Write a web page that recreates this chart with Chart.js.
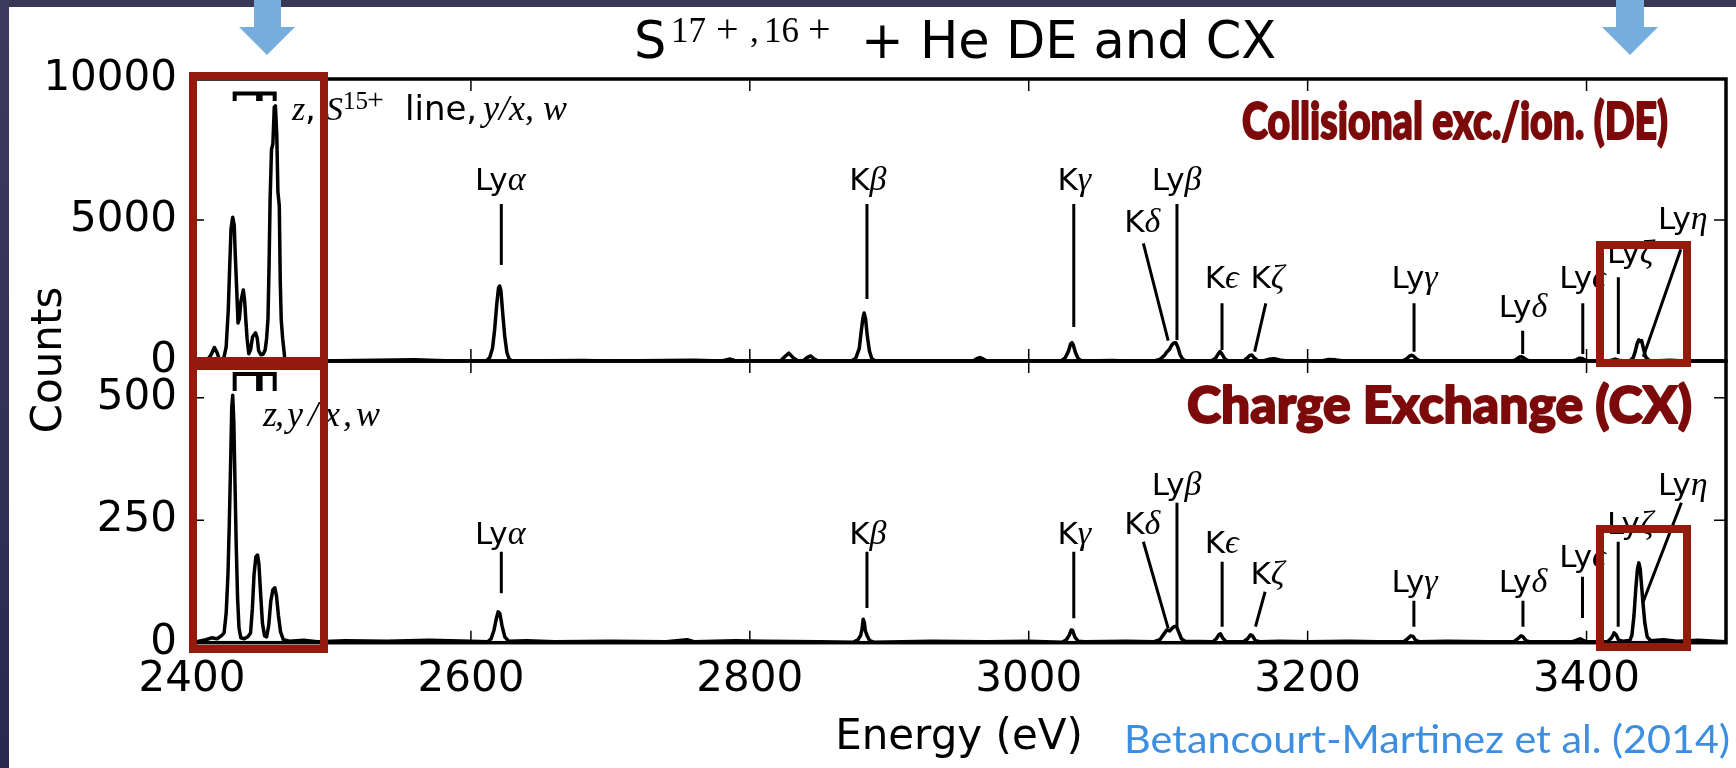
<!DOCTYPE html>
<html>
<head>
<meta charset="utf-8">
<script src="https://cdn.jsdelivr.net/npm/chart.js@4.4.0/dist/chart.umd.min.js"></script>
<style>
  html, body { margin: 0; padding: 0; background: #fff; }
  #wrap { position: relative; width: 1736px; height: 768px; overflow: hidden; background: #fff; }
  #wrap canvas, #wrap svg { position: absolute; left: 0; top: 0; }
</style>
</head>
<body>
<div id="wrap">
  <canvas id="chartCX" width="1736" height="768"></canvas>
  <canvas id="chartDE" width="1736" height="768"></canvas>
  <svg width="1736" height="768" viewBox="0 0 1736 768">
    <defs>
      <linearGradient id="side" x1="0" y1="0" x2="0" y2="1">
        <stop offset="0" stop-color="#3d3a5e"/>
        <stop offset="1" stop-color="#29294f"/>
      </linearGradient>
    </defs>
    <rect x="0" y="0" width="1736" height="7" fill="#3a3658"/>
    <rect x="0" y="0" width="9" height="768" fill="url(#side)"/>

    <!-- arrows -->
    <g fill="#75addc">
      <rect x="254" y="0" width="27" height="28"/>
      <polygon points="239,27 295,27 267,55"/>
      <rect x="1616" y="0" width="28" height="28"/>
      <polygon points="1602,27 1658,27 1630,55"/>
    </g>

    <!-- title -->
    <text font-family="DejaVu Sans" font-size="51" fill="#000">
      <tspan x="634" y="58">S</tspan>
      <tspan font-family="Liberation Serif" font-size="35" y="42"><tspan x="671">17</tspan><tspan x="716" font-size="40">+</tspan><tspan x="750">,</tspan><tspan x="764">16</tspan><tspan x="808" font-size="40">+</tspan></tspan>
      <tspan x="861" y="58">+ He DE and CX</tspan>
    </text>

    <text transform="translate(61,360) rotate(-90)" text-anchor="middle" font-family="DejaVu Sans" font-size="42" fill="#000">Counts</text>
    <text x="959" y="749" text-anchor="middle" font-family="DejaVu Sans" font-size="42" fill="#000">Energy (eV)</text>
    <text x="1124" y="753" font-family="Lato" font-size="38" fill="#3c8ee0" textLength="606" lengthAdjust="spacingAndGlyphs">Betancourt-Martinez et al. (2014)</text>

    <g font-family="Lato" font-weight="900" fill="#7d0a0a" stroke="#7d0a0a" stroke-width="1.8" stroke-linejoin="round">
      <text transform="translate(1242,139) scale(1,1.1)" x="0" y="0" font-size="46" textLength="426" lengthAdjust="spacingAndGlyphs">Collisional exc./ion. (DE)</text>
      <text transform="translate(1187,423) scale(1,1.06)" x="0" y="0" font-size="49" textLength="505" lengthAdjust="spacingAndGlyphs">Charge Exchange (CX)</text>
    </g>

    <!-- highlight boxes -->
    <g fill="none" stroke="#931a0c" stroke-width="8">
      <rect x="193" y="76" width="131" height="285"/>
      <rect x="193" y="366" width="131" height="283"/>
      <rect x="1600" y="245" width="87" height="118"/>
      <rect x="1600" y="529" width="87" height="118"/>
    </g>
  </svg>
</div>
<script>
// axis ticks
const xTicks = [2400, 2600, 2800, 3000, 3200, 3400];
const deYTicks = [0, 5000, 10000];
const cxYTicks = [0, 250, 500];

// direct excitation spectrum (eV, counts)
const deEnergy = [
  2400, 2407, 2412, 2414, 2416, 2418, 2419.5, 2422, 2423, 2424.5,
  2426, 2427, 2428, 2429.2, 2430.3, 2431, 2432, 2433, 2434, 2435,
  2436.8, 2437.8, 2438.6, 2439.5, 2440.7, 2442, 2443.4, 2445.6, 2446.8, 2447.8,
  2449.5, 2451, 2452.5, 2453.5, 2454.5, 2455.3, 2456, 2457, 2458, 2459,
  2459.8, 2460.8, 2461.6, 2462.6, 2463.3, 2464, 2465, 2466.5, 2469, 2480,
  2490, 2560, 2575, 2590,
  2611, 2613.5, 2615.5, 2617, 2618.5, 2619.8, 2620.6, 2621.5, 2622.8, 2624.2, 2625.8, 2627.5, 2630,
  2680, 2700, 2760, 2780, 2786, 2790, 2822, 2825, 2828, 2831, 2834, 2838, 2841, 2843.6, 2846, 2849,
  2873, 2876, 2878.5, 2880, 2881.2, 2882, 2883, 2884.2, 2885.8, 2887.5, 2890,
  2960, 2963, 2965, 2967, 2970,
  3023, 3026, 3028.5, 3030, 3031, 3032, 3033.5, 3035.5, 3038, 3060, 3070,
  3090, 3094, 3097, 3099, 3101, 3102.5, 3104, 3105.5, 3107, 3108.5, 3110.5, 3113,
  3131, 3134, 3136, 3137.2, 3138.5, 3140.5, 3143,
  3154, 3156.5, 3158.5, 3160, 3161.5, 3164, 3168, 3172, 3176, 3180, 3185,
  3210, 3215, 3220, 3226,
  3268, 3271, 3273, 3274.5, 3276, 3278, 3281,
  3347, 3350, 3352, 3353.5, 3355, 3357.5, 3360,
  3390, 3393, 3395, 3397, 3399, 3402,
  3415, 3418, 3420.5, 3423, 3427,
  3431, 3433.5, 3435, 3436.3, 3437.5, 3438.5, 3439.5, 3440.8, 3442.3, 3444.5, 3447,
  3460, 3470, 3500
];
const deCounts = [
  0, 0, 100, 250, 480, 300, 60, 40, 150, 500,
  1800, 3300, 4700, 5100, 4800, 3800, 2600, 1350, 1500, 2100,
  2520, 2100, 1450, 800, 260, 400, 850, 1000, 800, 360,
  220, 240, 400, 800, 1500, 3500, 5700, 7500, 7700, 9000,
  9050, 8000, 6000, 5500, 2800, 1450, 800, 100, 20, 30,
  0, 40, 20, 0,
  0, 120, 450, 1100, 2000, 2600, 2660, 2500, 1700, 900, 300, 60, 0,
  20, 0, 30, 0, 70, 0, 0, 150, 280, 120, 20, 0, 120, 180, 80, 0,
  0, 100, 450, 1100, 1550, 1700, 1500, 900, 350, 80, 0,
  0, 90, 120, 80, 0,
  0, 100, 350, 600, 650, 560, 300, 80, 0, 20, 0,
  0, 60, 180, 320, 420, 560, 640, 650, 480, 230, 60, 0,
  0, 100, 260, 330, 250, 80, 0,
  0, 100, 200, 210, 120, 20, 0, 60, 80, 40, 0,
  0, 50, 40, 0,
  0, 80, 170, 200, 170, 70, 0,
  0, 70, 140, 150, 110, 30, 0,
  0, 50, 100, 90, 30, 0,
  0, 30, 60, 30, 0,
  0, 120, 350, 620, 750, 690, 720, 450, 150, 30, 0,
  30, 0, 0
];

// charge exchange spectrum (eV, counts)
const cxEnergy = [
  2400, 2405, 2410, 2414, 2418, 2421, 2423, 2424.5, 2425.8, 2426.8,
  2427.8, 2428.5, 2429.2, 2430, 2430.8, 2431.7, 2432.7, 2433.7, 2435, 2437.5,
  2440, 2442, 2443.3, 2444.5, 2445.8, 2447, 2448, 2449.2, 2450.5, 2452,
  2453.5, 2455, 2456.5, 2458, 2459.4, 2460.6, 2462, 2463.5, 2465.5, 2470,
  2480, 2490, 2510, 2540, 2570, 2600,
  2612, 2614.5, 2616.5, 2618.3, 2619.5, 2620.7, 2622.3, 2624.3, 2627, 2640, 2660, 2700, 2740, 2755, 2760, 2790, 2810, 2850,
  2874, 2877.5, 2879.5, 2880.5, 2881.3, 2882.2, 2882.8, 2884, 2886, 2889, 2930, 2970, 3000,
  3024, 3027, 3029, 3030.5, 3031.5, 3033, 3035.5, 3040, 3070,
  3090, 3094, 3097, 3099, 3101, 3103, 3104.5, 3106, 3107.5, 3109.5, 3112,
  3132, 3134.5, 3136.3, 3137.5, 3139, 3141.5,
  3154, 3157, 3159, 3160.5, 3162.5, 3166, 3180, 3200, 3230, 3250,
  3269, 3272, 3274, 3275.5, 3277.5, 3280, 3300, 3330,
  3348, 3351, 3353, 3354.5, 3356.5, 3359, 3380,
  3390, 3393.5, 3395.5, 3397.5, 3400, 3410,
  3415, 3418, 3419.7, 3421.2, 3423, 3426, 3429,
  3431, 3432.5, 3434, 3435.3, 3436.5, 3437.5, 3438.5, 3439.5, 3440.5, 3441.8, 3443.5, 3446,
  3455, 3465, 3480, 3500
];
const cxCounts = [
  0, 3, 6, 10, 8, 14, 20, 60, 140, 250,
  380, 480, 505, 450, 330, 200, 90, 30, 10, 8,
  12, 20, 70, 140, 175, 179, 160, 100, 40, 14,
  12, 35, 85, 108, 112, 95, 55, 22, 6, 3,
  5, 2, 4, 3, 5, 3,
  2, 8, 25, 50, 63, 60, 35, 12, 3, 4, 2, 3, 2, 6, 2, 4, 3, 2,
  1, 6, 15, 28, 48, 40, 25, 15, 4, 1, 3, 2, 3,
  1, 6, 15, 26, 25, 12, 3, 2, 3,
  2, 6, 18, 26, 24, 30, 33, 33, 22, 8, 3,
  2, 8, 16, 18, 10, 2,
  2, 8, 16, 14, 4, 2, 3, 2, 3, 2,
  2, 9, 14, 13, 5, 2, 3, 2,
  2, 9, 14, 12, 4, 2, 2,
  2, 6, 8, 5, 2, 2,
  2, 10, 20, 16, 5, 3, 4,
  4, 15, 55, 110, 150, 163, 150, 115, 80, 40, 12, 4,
  6, 3, 5, 2
];

// line identifications
const lineNames = ['Lyα', 'Kβ', 'Kγ', 'Lyβ', 'Kδ', 'Kϵ', 'Kζ', 'Lyγ', 'Lyδ', 'Lyϵ', 'Lyζ', 'Lyη'];

// label anchors [eV, counts] and marker segments [eV, counts, eV, counts]
const deLabelAt = [[2621, 6064], [2884.6, 6064], [3032.7, 6064], [3106.1, 6064], [3081.4, 4592], [3138.4, 2589],
  [3171.2, 2589], [3276.7, 2589], [3354.4, 1571], [3397.1, 2589], [3431.4, 3475], [3469, 4681]];
const deMarks = [
  [2621.8, 5567, 2621.8, 3404], [2884, 5567, 2884, 2199], [3032.3, 5567, 3032.3, 1206], [3106.3, 5567, 3106.3, 745],
  [3082.2, 4174, 3100, 720], [3138.6, 2046, 3138.6, 390], [3170, 2046, 3162, 330], [3276.3, 2046, 3276.3, 330],
  [3354.2, 1074, 3354.2, 248], [3397.3, 2046, 3397.3, 248], [3422.8, 2968, 3422.8, 248], [3467.6, 3961, 3440.7, 152]
];
const cxLabelAt = [[2621, 201.4], [2884.6, 201.4], [3032.7, 201.4], [3106.1, 301.5], [3081.4, 221.9], [3138.4, 183],
  [3171.2, 119.8], [3276.7, 103.5], [3354.4, 103.5], [3397.1, 154.5], [3431.4, 221.9], [3469, 301.5]];
const cxMarks = [
  [2621.8, 185.7, 2621.8, 100.8], [2884, 185.7, 2884, 70.8], [3032.3, 185.7, 3032.3, 49.8], [3106.3, 285.7, 3106.3, 32.7],
  [3082.2, 206, 3100, 29.4], [3138.7, 165.3, 3138.7, 32.7], [3169.5, 104, 3162.6, 32.7], [3276.2, 85.7, 3276.2, 32.7],
  [3354.4, 85.7, 3354.4, 32.7], [3397.1, 134.7, 3397.1, 50.4], [3422.7, 206, 3422.7, 32.7], [3468, 285.7, 3440.2, 80.4]
];

// He-like complex bracket: left, middle, right eV; top / bottom counts
const bracketE = [2430.6, 2448.3, 2459.3];
const deBracketC = [9486, 9220];
const cxBracketC = [548.4, 513.7];

const SANS = "'DejaVu Sans'";
const SERIF = "'Liberation Serif', 'DejaVu Serif', serif";
const labelFont = '31px ' + SANS;
const greekFont = 'italic 34px ' + SERIF;

// complex labels: pieces with x offset (px) from anchor
const deComplex = { at: [2471.7, 8546], parts: [
  { t: 'z', f: 'italic 34px ' + SERIF, dx: 0, dy: 0 },
  { t: ',', f: '34px ' + SANS, dx: 13, dy: 0 },
  { t: 'S', f: 'italic 34px ' + SERIF, dx: 34, dy: 0 },
  { t: '15', f: '25px ' + SERIF, dx: 51, dy: -11 },
  { t: '+', f: '30px ' + SERIF, dx: 75, dy: -11 },
  { t: 'line,', f: '34px ' + SANS, dx: 113, dy: 0 },
  { t: 'y/x, w', f: 'italic 36px ' + SERIF, dx: 191, dy: 0 }
] };
const cxComplex = { at: [2450.9, 442.3], parts: [
  { t: 'z', f: 'italic 36px ' + SERIF, dx: 0, dy: 0 },
  { t: ',', f: 'italic 36px ' + SERIF, dx: 12, dy: 0 },
  { t: 'y', f: 'italic 36px ' + SERIF, dx: 24, dy: 0 },
  { t: '/', f: 'italic 36px ' + SERIF, dx: 45, dy: 0 },
  { t: 'x', f: 'italic 36px ' + SERIF, dx: 61, dy: 0 },
  { t: ',', f: 'italic 36px ' + SERIF, dx: 80, dy: 0 },
  { t: 'w', f: 'italic 36px ' + SERIF, dx: 93, dy: 0 }
] };

function makeFrame(yTicks, labelAt, marks, bracketC, complex) {
  return {
    id: 'frame',
    afterDraw(chart) {
      const { ctx, chartArea: a, scales: { x, y } } = chart;
      ctx.save();
      ctx.strokeStyle = '#000';
      ctx.fillStyle = '#000';

      // inward ticks on all four sides
      ctx.lineWidth = 1.5;
      ctx.beginPath();
      xTicks.forEach(v => {
        const px = x.getPixelForValue(v);
        ctx.moveTo(px, a.bottom); ctx.lineTo(px, a.bottom - 12);
        ctx.moveTo(px, a.top); ctx.lineTo(px, a.top + 12);
      });
      yTicks.forEach(v => {
        const py = y.getPixelForValue(v);
        ctx.moveTo(a.left, py); ctx.lineTo(a.left + 12, py);
        ctx.moveTo(a.right, py); ctx.lineTo(a.right - 12, py);
      });
      ctx.stroke();

      ctx.lineWidth = 3.5;
      ctx.strokeRect(a.left, a.top, a.right - a.left, a.bottom - a.top);

      // marker segments
      ctx.lineWidth = 3;
      ctx.beginPath();
      marks.forEach(m => {
        ctx.moveTo(x.getPixelForValue(m[0]), y.getPixelForValue(m[1]));
        ctx.lineTo(x.getPixelForValue(m[2]), y.getPixelForValue(m[3]));
      });
      ctx.stroke();

      // line names
      ctx.textAlign = 'left';
      ctx.textBaseline = 'alphabetic';
      lineNames.forEach((name, i) => {
        const pre = name.slice(0, -1), gr = name.slice(-1);
        ctx.font = labelFont; const w1 = ctx.measureText(pre).width;
        ctx.font = greekFont; const w2 = ctx.measureText(gr).width;
        const px = x.getPixelForValue(labelAt[i][0]) - (w1 + w2) / 2;
        const py = y.getPixelForValue(labelAt[i][1]);
        ctx.font = labelFont; ctx.fillText(pre, px, py);
        ctx.font = greekFont; ctx.fillText(gr, px + w1, py);
      });

      // bracket
      const bl = x.getPixelForValue(bracketE[0]), bm = x.getPixelForValue(bracketE[1]), br = x.getPixelForValue(bracketE[2]);
      const bt = y.getPixelForValue(bracketC[0]), bb = y.getPixelForValue(bracketC[1]);
      ctx.lineWidth = 4;
      ctx.lineJoin = 'miter';
      ctx.beginPath();
      ctx.moveTo(bl, bb); ctx.lineTo(bl, bt); ctx.lineTo(br, bt); ctx.lineTo(br, bb);
      ctx.stroke();
      ctx.lineWidth = 6.5;
      ctx.beginPath();
      ctx.moveTo(bm, bt); ctx.lineTo(bm, bb);
      ctx.stroke();

      // complex label
      const cx0 = x.getPixelForValue(complex.at[0]), cy0 = y.getPixelForValue(complex.at[1]);
      complex.parts.forEach(p => {
        ctx.font = p.f;
        ctx.fillText(p.t, cx0 + p.dx, cy0 + p.dy);
      });
      ctx.restore();
    }
  };
}

function tickFont() { return { family: 'DejaVu Sans', size: 42 }; }

function spectrumData(energy, counts) {
  return energy.map((e, i) => ({ x: e, y: counts[i] }));
}

function lineDataset(energy, counts) {
  return {
    data: spectrumData(energy, counts),
    borderColor: '#000',
    borderWidth: 3.5,
    borderJoinStyle: 'round',
    pointRadius: 0,
    tension: 0,
    fill: false
  };
}

new Chart(document.getElementById('chartDE'), {
  type: 'line',
  data: { datasets: [lineDataset(deEnergy, deCounts)] },
  options: {
    responsive: false,
    animation: false,
    events: [],
    layout: { padding: { left: 0, top: 79, right: 10, bottom: 407 } },
    plugins: { legend: { display: false }, tooltip: { enabled: false } },
    scales: {
      x: { type: 'linear', min: 2400, max: 3500, display: false },
      y: {
        min: 0, max: 10000,
        afterBuildTicks: s => { s.ticks = deYTicks.map(v => ({ value: v })); },
        afterFit: s => { s.width = 192; },
        ticks: { color: '#000', font: tickFont(), padding: 15, callback: v => String(v) },
        grid: { display: false, drawTicks: false },
        border: { display: false }
      }
    }
  },
  plugins: [makeFrame(deYTicks, deLabelAt, deMarks, deBracketC, deComplex)]
});

new Chart(document.getElementById('chartCX'), {
  type: 'line',
  data: { datasets: [lineDataset(cxEnergy, cxCounts)] },
  options: {
    responsive: false,
    animation: false,
    events: [],
    layout: { padding: { left: 0, top: 361, right: 10, bottom: 0 } },
    plugins: { legend: { display: false }, tooltip: { enabled: false } },
    scales: {
      x: {
        type: 'linear', min: 2400, max: 3500,
        afterBuildTicks: s => { s.ticks = xTicks.map(v => ({ value: v })); },
        afterFit: s => { s.height = 125.3; },
        ticks: { color: '#000', font: tickFont(), padding: 12, maxRotation: 0, autoSkip: false, callback: v => String(v) },
        grid: { display: false, drawTicks: false },
        border: { display: false }
      },
      y: {
        min: 0, max: 575,
        afterBuildTicks: s => { s.ticks = cxYTicks.map(v => ({ value: v })); },
        afterFit: s => { s.width = 192; },
        ticks: { color: '#000', font: tickFont(), padding: 15, callback: v => String(v) },
        grid: { display: false, drawTicks: false },
        border: { display: false }
      }
    }
  },
  plugins: [makeFrame(cxYTicks, cxLabelAt, cxMarks, cxBracketC, cxComplex)]
});
</script>
</body>
</html>
